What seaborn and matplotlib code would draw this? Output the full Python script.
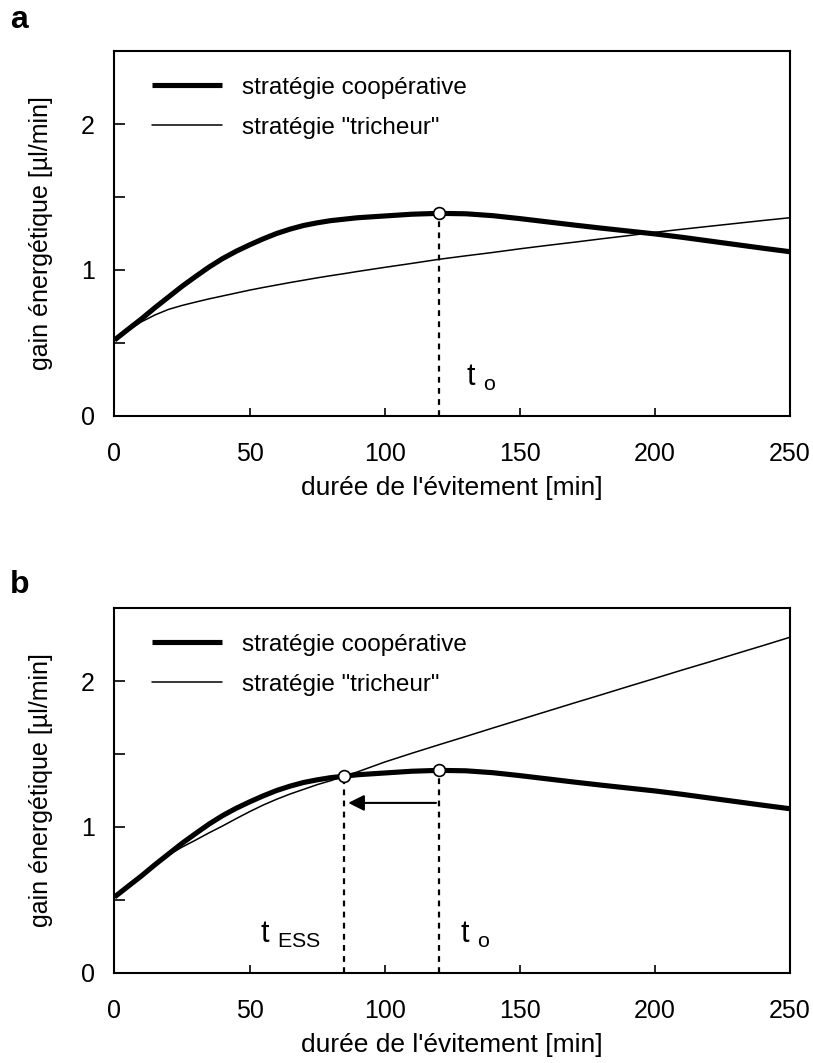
import numpy as np
import pandas as pd
import matplotlib
matplotlib.use("Agg")
import matplotlib.pyplot as plt
from matplotlib.ticker import MultipleLocator
import seaborn as sns

# values (minutes, gain in µl/min)
minutes = [0, 5, 10, 15, 20, 25, 30, 35, 40, 45, 50, 55, 60, 65, 70, 75, 80, 85, 90,
           100, 110, 120, 130, 140, 150, 160, 170, 180, 190, 200, 210, 220, 230,
           240, 250]
coop = [0.52, 0.593, 0.665, 0.742, 0.815, 0.888, 0.955, 1.02, 1.078, 1.128, 1.172,
        1.213, 1.25, 1.28, 1.305, 1.323, 1.338, 1.348, 1.358, 1.37, 1.382, 1.388,
        1.385, 1.372, 1.352, 1.33, 1.308, 1.287, 1.267, 1.247, 1.224, 1.199, 1.174,
        1.149, 1.125]
cheat_a = [0.52, 0.585, 0.645, 0.692, 0.73, 0.757, 0.78, 0.802, 0.822, 0.842, 0.862,
           0.88, 0.897, 0.914, 0.93, 0.946, 0.961, 0.975, 0.99, 1.018, 1.045, 1.073,
           1.097, 1.12, 1.145, 1.168, 1.19, 1.213, 1.235, 1.258, 1.279, 1.299, 1.319,
           1.339, 1.358]
cheat_b = [0.52, 0.593, 0.665, 0.738, 0.808, 0.862, 0.91, 0.96, 1.007, 1.057, 1.105,
           1.15, 1.19, 1.226, 1.258, 1.29, 1.317, 1.348, 1.378, 1.445, 1.505, 1.563,
           1.62, 1.678, 1.735, 1.792, 1.849, 1.905, 1.962, 2.018, 2.075, 2.13, 2.187,
           2.243, 2.30]

t_opt = 120   # t o
t_ess = 85    # t ESS
arrow_y = 1.165

lab_coop = "stratégie coopérative"
lab_cheat = 'stratégie "tricheur"'

sns.set_style("ticks")
plt.rcParams["font.family"] = ["Liberation Sans", "DejaVu Sans"]
plt.rcParams["mathtext.fontset"] = "custom"
plt.rcParams["mathtext.rm"] = "Liberation Sans"
for key in ["text.color", "axes.labelcolor", "xtick.color", "ytick.color"]:
    plt.rcParams[key] = "black"

fig = plt.figure(figsize=(8.13, 10.63), dpi=100)
ax_a = fig.add_axes([0.1408, 0.6087, 0.831, 0.3433])
ax_b = fig.add_axes([0.1408, 0.0847, 0.831, 0.3433])


def draw_panel(ax, cheat, marks):
    df = pd.DataFrame({"t": minutes, "coop": coop, "cheat": cheat})
    sns.lineplot(data=df, x="t", y="coop", ax=ax, color="black", lw=3.7,
                 label=lab_coop, solid_joinstyle="round", solid_capstyle="butt")
    sns.lineplot(data=df, x="t", y="cheat", ax=ax, color="black", lw=1.1,
                 label=lab_cheat, solid_joinstyle="round")
    for tm in marks:
        yv = coop[minutes.index(tm)]
        ax.plot([tm, tm], [0, yv], color="black", lw=1.6,
                linestyle=(0, (2.6, 2.4)), zorder=2)
        ax.plot(tm, yv, "o", ms=8.5, mfc="white", mec="black", mew=1.2, zorder=5)

    ax.set_xlim(0, 250)
    ax.set_ylim(0, 2.5)
    ax.xaxis.set_major_locator(MultipleLocator(50))
    ax.yaxis.set_major_locator(MultipleLocator(1))
    ax.yaxis.set_minor_locator(MultipleLocator(0.5))
    ax.tick_params(axis="both", which="both", direction="in", width=1.2,
                   labelsize=18, top=False, right=False)
    ax.tick_params(axis="x", which="major", length=6, pad=19)
    ax.tick_params(axis="y", which="major", length=8, pad=14)
    ax.tick_params(axis="y", which="minor", length=8)
    for sp in ax.spines.values():
        sp.set_visible(True)
        sp.set_linewidth(1.5)
        sp.set_color("black")
    ax.set_xlabel("durée de l'évitement [min]", fontsize=19, labelpad=7)
    ax.set_ylabel("gain énergétique [µl/min]", fontsize=18, labelpad=20)
    ax.legend(loc="upper left", bbox_to_anchor=(0.023, 0.99), frameon=False,
              fontsize=17.5, handlelength=2.9, handletextpad=0.8,
              labelspacing=0.75)


draw_panel(ax_a, cheat_a, [t_opt])
ax_a.text(t_opt + 10, 0.26, "t $_{\\mathrm{o}}$", fontsize=22, va="center")

draw_panel(ax_b, cheat_b, [t_ess, t_opt])
ax_b.text(t_ess - 31, 0.26, "t $_{\\mathrm{ESS}}$", fontsize=22, va="center")
ax_b.text(t_opt + 8, 0.26, "t $_{\\mathrm{o}}$", fontsize=22, va="center")
ax_b.annotate("", xy=(t_ess + 1.5, arrow_y), xytext=(t_opt - 1, arrow_y),
              arrowprops=dict(arrowstyle="-|>", color="black", lw=1.5,
                              mutation_scale=24, shrinkA=0, shrinkB=0))

fig.text(0.012, 0.981, "a", fontsize=23, fontweight="bold", va="center")
fig.text(0.012, 0.450, "b", fontsize=23, fontweight="bold", va="center")

fig.savefig("out.png", dpi=100)
